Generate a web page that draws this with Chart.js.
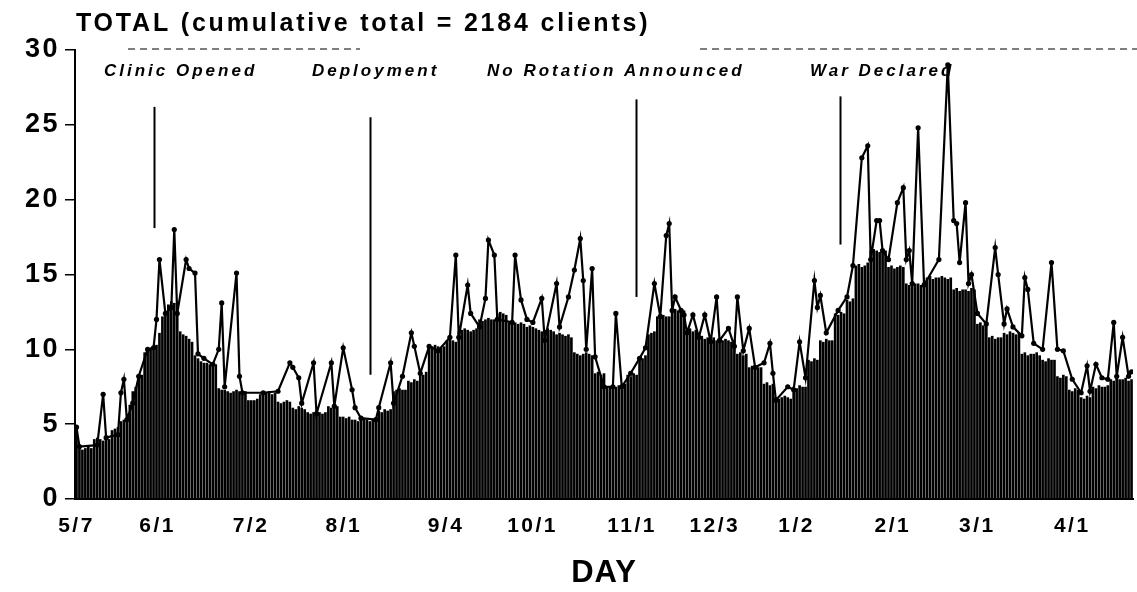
<!DOCTYPE html>
<html>
<head>
<meta charset="utf-8">
<title>TOTAL clients by day</title>
<script src="https://cdn.jsdelivr.net/npm/chart.js@4.4.1/dist/chart.umd.min.js"></script>
<style>
    html, body { margin: 0; padding: 0; background: #fff; }
    canvas { display: block; }
</style>
</head>
<body>
<canvas id="dayChart" width="1137" height="592"></canvas>
<script>
(function() {
    'use strict';

    // Daily bar heights, one per day starting 5/7
    const barValues = [
        4.8,3.4,3.3,3.4,3.5,3.4,4.0,4.1,4.0,3.9,4.1,4.0,4.6,4.7,4.8,5.2,5.3,5.4,6.3,7.2,7.5,8.1,8.3,9.8,10.0,10.1,10.2,10.3,11.1,12.2,
        12.4,13.0,13.2,13.1,12.4,11.2,11.0,10.9,10.7,10.5,9.6,9.4,9.2,9.1,9.1,9.0,9.1,9.0,7.4,7.3,7.3,7.2,7.1,7.2,7.3,7.2,7.1,7.2,6.6,6.6,
        6.6,6.7,7.0,7.1,7.1,7.2,7.0,7.1,6.5,6.4,6.5,6.6,6.5,6.1,6.0,6.2,6.1,6.0,5.8,5.7,5.8,5.9,5.8,5.7,5.8,6.2,6.1,6.2,6.2,5.5,
        5.5,5.4,5.5,5.3,5.3,5.2,5.3,5.4,5.3,5.2,5.3,5.3,5.9,5.8,6.0,5.9,6.0,7.2,7.3,7.4,7.3,7.3,7.9,7.8,8.0,7.9,8.4,8.3,8.5,10.1,
        10.2,10.3,10.2,10.1,10.2,10.6,10.7,10.6,10.5,11.2,11.3,11.4,11.3,11.2,11.3,11.4,12.0,11.9,12.0,12.1,12.0,12.0,12.4,12.5,12.4,12.3,11.8,11.9,11.8,11.7,
        11.8,11.7,11.5,11.6,11.5,11.4,11.3,11.2,11.3,11.4,11.3,11.2,11.0,11.1,11.0,10.9,11.0,10.8,9.8,9.7,9.6,9.7,9.8,9.7,9.6,8.4,8.5,8.3,8.4,7.5,
        7.5,7.4,7.5,7.6,7.6,7.7,8.3,8.2,8.4,8.3,9.5,9.4,9.6,11.0,11.1,11.2,12.2,12.1,12.3,12.2,12.2,12.6,12.7,12.6,12.5,12.6,11.3,11.4,11.2,11.3,
        10.8,10.9,10.7,10.8,10.9,10.8,10.6,10.5,10.6,10.7,10.6,10.5,10.6,9.7,9.8,9.6,9.7,8.8,8.9,8.7,8.8,8.8,7.7,7.8,7.6,7.7,6.8,6.7,6.8,6.9,
        6.8,6.7,7.5,7.4,7.6,7.5,7.5,9.3,9.2,9.4,9.3,10.6,10.5,10.7,10.6,10.6,12.4,12.3,12.5,12.4,13.3,13.2,13.4,15.6,15.7,15.5,15.6,15.8,16.6,16.7,
        16.6,16.5,16.7,16.6,15.5,15.6,15.4,15.5,15.6,15.5,14.4,14.3,14.5,14.4,14.4,14.3,14.5,14.8,14.9,14.7,14.8,14.8,14.9,14.8,14.7,14.8,14.0,14.1,13.9,14.0,
        14.0,13.9,14.1,14.0,11.7,11.8,11.6,11.7,10.8,10.9,10.7,10.8,10.8,11.1,11.0,11.2,11.1,11.0,11.1,9.7,9.8,9.6,9.7,9.7,9.8,9.6,9.3,9.2,9.4,9.3,
        9.3,8.2,8.1,8.3,8.2,7.3,7.2,7.4,7.3,6.8,6.7,6.9,6.8,7.5,7.4,7.6,7.5,7.5,7.6,8.0,7.9,8.1,8.0,8.0,8.1,7.9,8.0
    ];

    // Marked line: day index and daily count at each vertex
    const lineDays = [
        0,1,7,9,10,14,15,16,17,19,21,24,26,27,28,30,32,33,34,37,38,40,41,43,46,48,49,50,54,55,
        56,63,68,72,73,75,76,80,81,86,87,90,93,94,96,101,102,106,107,110,113,114,116,119,122,126,128,129,132,133,
        136,138,139,141,142,147,148,150,152,154,157,158,162,163,166,168,170,171,172,174,175,178,181,182,184,187,190,192,195,197,
        199,200,201,202,204,205,206,208,210,212,214,216,217,220,222,223,225,227,229,232,234,235,236,240,242,244,246,249,250,251,
        253,257,260,262,265,267,268,270,271,272,274,277,279,280,281,282,284,286,291,294,296,297,298,300,301,302,304,307,310,311,
        313,314,316,319,320,321,323,326,329,331,333,336,339,341,342,344,346,348,350,351,353,355,356
    ];
    const lineValues = [
        4.8,3.5,3.6,7.0,4.1,4.3,7.1,8.0,5.3,6.4,8.2,10,10.1,12,16,12.4,12.8,18,12.4,16,15.4,15.1,9.7,9.4,9.0,10,13.1,7.5,15.1,8.2,
        7.1,7.1,7.2,9.1,8.8,8.1,6.4,9.1,5.7,9.1,6.2,10.1,7.3,6.1,5.4,5.3,6.1,9.1,6.4,8.2,11.1,10.2,8.4,10.2,9.9,10.8,16.3,10.8,14.3,12.4,
        11.5,13.4,17.3,16.3,12,11.8,16.3,13.3,12,11.8,13.4,10.6,14.4,11.5,13.5,15.3,17.4,14.6,10,15.4,9.5,7.5,7.5,12.4,7.5,8.4,9.4,10.1,14.4,12.2,
        17.6,18.4,12.6,13.5,12.6,12.3,11.1,12.3,10.8,12.3,10.5,13.5,10.6,11.4,10.2,13.5,9.9,11.4,8.8,9.1,10.4,8.4,6.6,7.5,7.3,10.5,8.1,14.6,12.8,13.6,
        11.1,12.6,13.5,15.6,22.8,23.6,16,18.6,18.6,16.6,16,19.8,20.8,16,16.6,14.4,24.8,14.3,16,29,18.6,18.4,15.8,19.8,14.4,15,12.4,11.7,16.8,15,
        11.7,12.7,11.5,10.9,14.8,14,10.4,10,15.8,10,9.9,8.0,7.1,8.9,7.2,9.0,8.1,8.0,11.8,8.2,10.8,8.2,8.5
    ];

    // Axis ticks
    const yTicks = [0, 5, 10, 15, 20, 25, 30];
    const tickDays = [0, 27.4, 58.9, 90.2, 124.7, 153.9, 187.5, 215.4, 243, 275.5, 304, 336];
    const tickLabels = ['5/7', '6/1', '7/2', '8/1', '9/4', '10/1', '11/1', '12/3', '1/2', '2/1', '3/1', '4/1'];

    // Events: label, day of marker, marker top and bottom (clients)
    const eventLabels = ['Clinic Opened', 'Deployment', 'No Rotation Announced', 'War Declared'];
    const eventDays = [26, 98.9, 188.9, 257.7];
    const eventTop = [26.2, 25.5, 26.7, 26.9];
    const eventBottom = [18.1, 8.3, 13.5, 17];

    const TITLE = 'TOTAL (cumulative total = 2184 clients)';
    const FONT = '"Liberation Sans", Arial, Helvetica, sans-serif';

    // layout of the free texts (pixels)
    const eventTextX = [104, 312, 487, 810];
    const eventTextY = 71;

    /**
     * Extra drawing: event markers, labels, title, axis name
     */
    const extrasPlugin = {
        id: 'extras',
        beforeDraw(chart) {
            chart.ctx.letterSpacing = '2.5px';
        },
        afterDraw(chart) {
            const ctx = chart.ctx;
            const x = chart.scales.x;
            const y = chart.scales.y;
            ctx.save();
            ctx.fillStyle = '#000';
            ctx.strokeStyle = '#000';

            // broken top border
            ctx.lineWidth = 1.2;
            ctx.setLineDash([7, 5]);
            const top = y.getPixelForValue(30) - 1;
            [[128, 360], [700, 1137]].forEach(function(seg) {
                ctx.beginPath();
                ctx.moveTo(seg[0], top);
                ctx.lineTo(seg[1], top);
                ctx.stroke();
            });
            ctx.setLineDash([]);

            // event markers
            ctx.lineWidth = 2;
            eventDays.forEach(function(d, i) {
                const px = Math.round(x.getPixelForValue(d)) + 0.5;
                ctx.beginPath();
                ctx.moveTo(px, y.getPixelForValue(eventTop[i]));
                ctx.lineTo(px, y.getPixelForValue(eventBottom[i]));
                ctx.stroke();
            });

            ctx.textBaseline = 'middle';
            ctx.textAlign = 'left';
            ctx.font = 'italic bold 17px ' + FONT;
            ctx.letterSpacing = '3px';
            eventLabels.forEach(function(t, i) {
                ctx.fillText(t, eventTextX[i], eventTextY);
            });

            // title
            ctx.font = 'bold 25px ' + FONT;
            ctx.letterSpacing = '2.8px';
            ctx.fillText(TITLE, 76, 24);

            // axis name
            ctx.font = 'bold 31px ' + FONT;
            ctx.letterSpacing = '1px';
            ctx.textAlign = 'center';
            ctx.fillText('DAY', (x.left + x.right) / 2, 573);

            ctx.restore();
        }
    };

    const ctx = document.getElementById('dayChart');

    new Chart(ctx, {
        data: {
            datasets: [{
                type: 'line',
                label: 'Daily',
                data: lineDays.map((d, i) => ({ x: d, y: lineValues[i] })),
                borderColor: '#000',
                borderWidth: 2.2,
                pointRadius: 2.6,
                pointBackgroundColor: '#000',
                pointBorderWidth: 0,
                tension: 0,
                order: 1
            }, {
                type: 'bar',
                label: 'Bars',
                data: barValues.map((v, i) => ({ x: i, y: v })),
                backgroundColor: '#000',
                barPercentage: 0.9,
                categoryPercentage: 1,
                order: 2
            }]
        },
        options: {
            responsive: false,
            animation: false,
            layout: {
                padding: { top: 50, right: 0, left: 0, bottom: 0 }
            },
            plugins: {
                legend: { display: false },
                tooltip: { enabled: false },
                title: { display: false }
            },
            scales: {
                x: {
                    type: 'linear',
                    min: -0.5,
                    max: 356.5,
                    offset: false,
                    grid: { display: false },
                    border: { color: '#000', width: 2 },
                    afterBuildTicks: function(scale) {
                        scale.ticks = tickDays.map(v => ({ value: v }));
                    },
                    afterFit: function(scale) {
                        scale.height = 93;
                    },
                    ticks: {
                        autoSkip: false,
                        maxRotation: 0,
                        padding: 7,
                        color: '#000',
                        font: { family: FONT, size: 21, weight: 'bold' },
                        callback: function(value) {
                            const i = tickDays.indexOf(value);
                            return i >= 0 ? tickLabels[i] : '';
                        }
                    }
                },
                y: {
                    min: 0,
                    max: 30,
                    grid: {
                        drawOnChartArea: false,
                        color: '#000',
                        lineWidth: 1.5,
                        tickLength: 10
                    },
                    border: { color: '#000', width: 2 },
                    afterBuildTicks: function(scale) {
                        scale.ticks = yTicks.map(v => ({ value: v }));
                    },
                    afterFit: function(scale) {
                        scale.width = 75;
                    },
                    ticks: {
                        padding: 5,
                        color: '#000',
                        font: { family: FONT, size: 27, weight: 'bold' }
                    }
                }
            }
        },
        plugins: [extrasPlugin]
    });
})();
</script>
</body>
</html>
